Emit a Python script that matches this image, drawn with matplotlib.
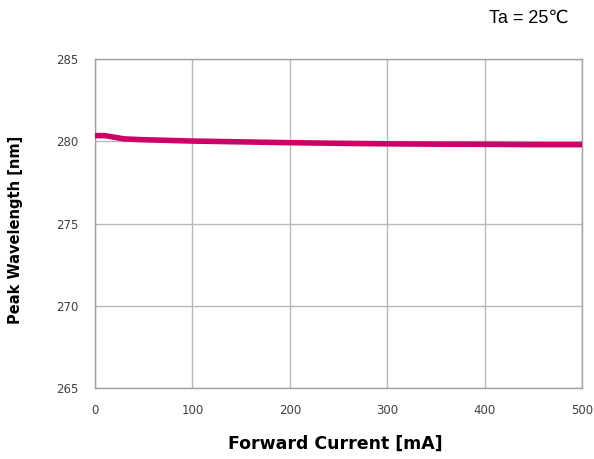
import numpy as np
import matplotlib
matplotlib.use("Agg")
import matplotlib.pyplot as plt

# forward current [mA] vs peak wavelength [nm]
current = [0, 10, 20, 30, 50, 100, 150, 200, 250, 300, 350, 400, 450, 500]
wavelength = [280.35, 280.35, 280.25, 280.15, 280.1, 280.02, 279.97, 279.92, 279.88, 279.85, 279.83, 279.82, 279.8, 279.8]

xticks = [0, 100, 200, 300, 400, 500]
yticks = [265, 270, 275, 280, 285]

plt.rcParams["font.family"] = ["DejaVu Sans", "Noto Sans CJK JP"]

fig = plt.figure(figsize=(5.94, 4.59), dpi=100)
ax = fig.add_axes([0.160, 0.155, 0.820, 0.716])

ax.plot(current, wavelength, color="#cc0066", lw=4.0, solid_capstyle="round", zorder=3)

ax.set_xlim(0, 500)
ax.set_ylim(265, 285)
ax.set_xticks(xticks)
ax.set_yticks(yticks)
ax.grid(True, color="#b8b8b8", lw=1.0)
for s in ax.spines.values():
    s.set_color("#a0a0a0")
    s.set_linewidth(1.0)
ax.tick_params(length=0, labelsize=8.5, labelcolor="#404040", pad=11.5)
ax.tick_params(axis="y", pad=12)

ax.set_xlabel("Forward Current [mA]", fontsize=12.5, fontweight="bold")
ax.set_ylabel("Peak Wavelength [nm]", fontsize=10.5, fontweight="bold")
ax.xaxis.set_label_coords(0.493, -0.143)
ax.yaxis.set_label_coords(-0.147, 0.482)

fig.text(0.89, 0.96, "Ta = 25\u2103", fontsize=13, ha="center", va="center",
         family=["Liberation Sans", "DejaVu Sans"])

fig.savefig("out.png", dpi=100)
